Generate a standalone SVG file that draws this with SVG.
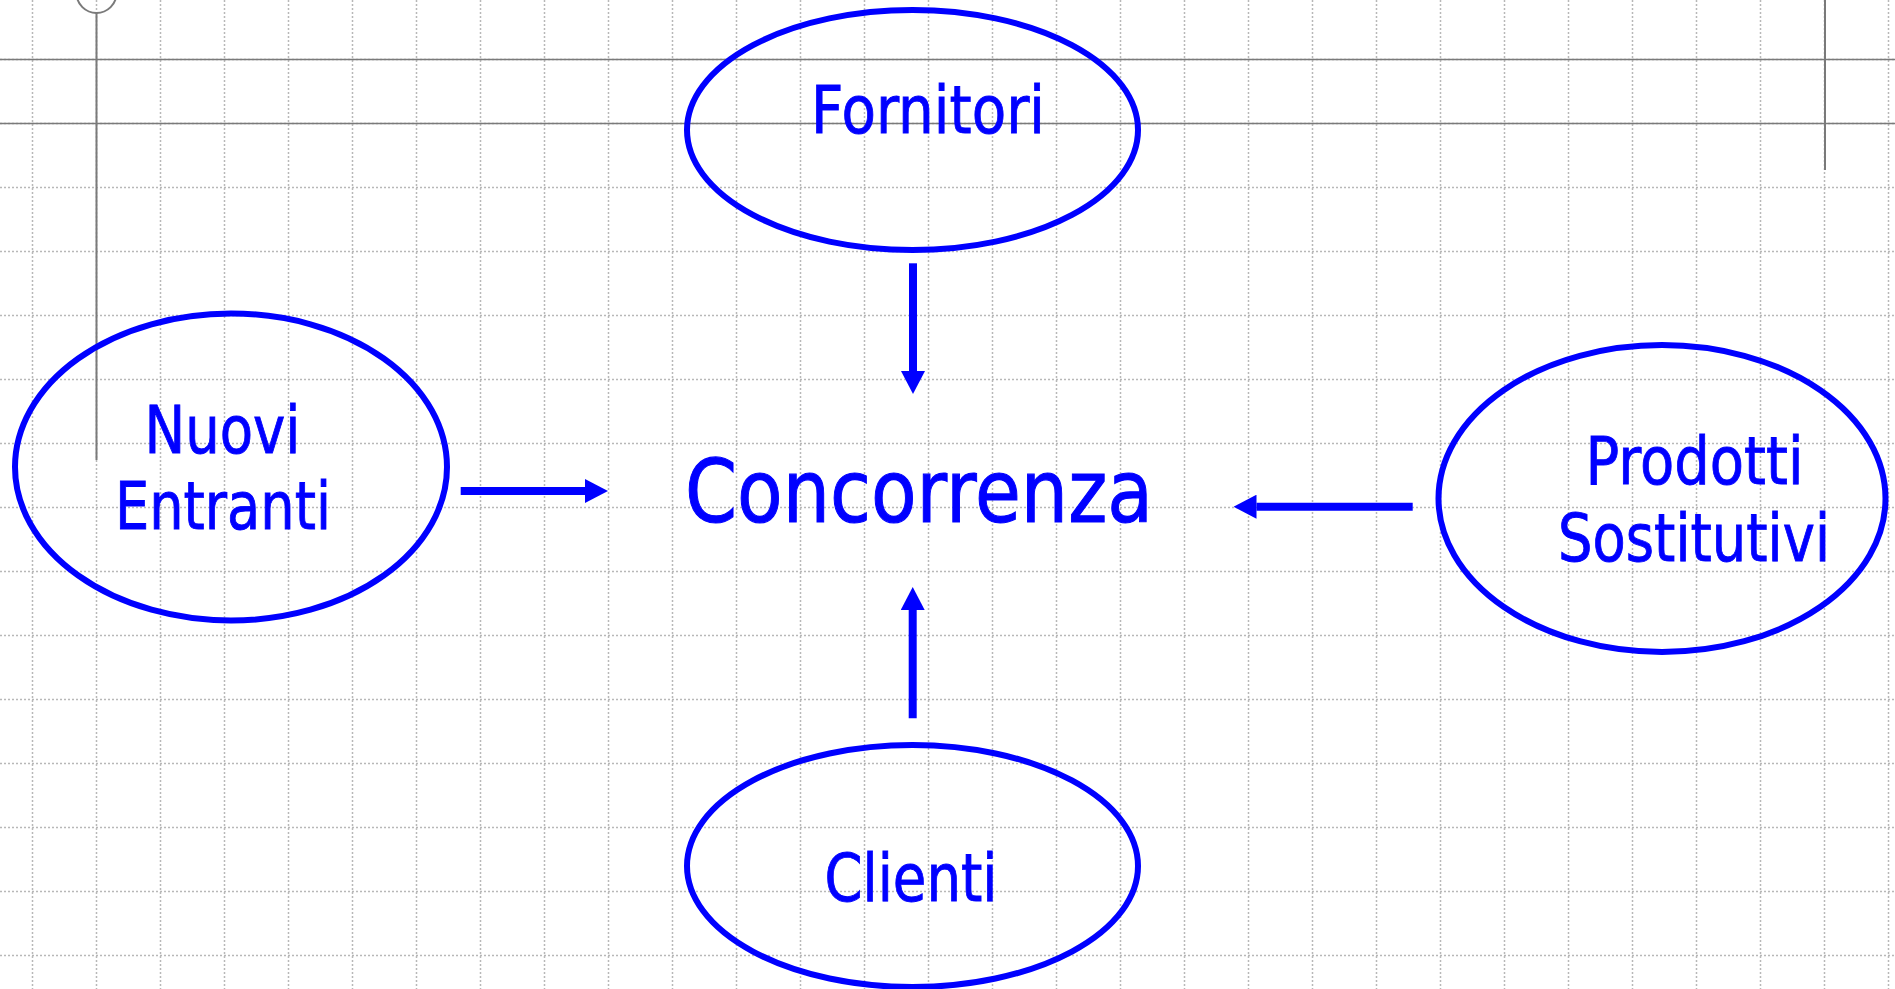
<svg xmlns="http://www.w3.org/2000/svg" width="1895" height="989" viewBox="0 0 1895 989">
<defs>
<style>
.grid line{stroke:#b8b8b8;stroke-width:1.5;stroke-dasharray:2 2}
.guide{stroke:#7a7a7a;stroke-width:2;fill:none}
.node ellipse{fill:none;stroke:#0000ff;stroke-width:6}
.lbl{font-family:"DejaVu Sans","Liberation Sans",sans-serif;fill:#0000ff;stroke:#0000ff;stroke-width:0.9;font-size:65px;text-anchor:middle}
.big{font-size:87px;stroke-width:1.1}
.conn line{stroke:#0000ff;stroke-width:8;stroke-linecap:butt}
</style>
<marker id="ah" viewBox="0 0 23 24" refX="0" refY="12" markerWidth="23" markerHeight="24" markerUnits="userSpaceOnUse" orient="auto">
<path d="M0,0 L23,12 L0,24 z" fill="#0000ff"/>
</marker>
</defs>
<rect width="1895" height="989" fill="#ffffff"/>
<g class="grid">
<line x1="32.5" y1="0" x2="32.5" y2="989"/><line x1="96.5" y1="0" x2="96.5" y2="989"/><line x1="160.5" y1="0" x2="160.5" y2="989"/><line x1="224.5" y1="0" x2="224.5" y2="989"/><line x1="288.5" y1="0" x2="288.5" y2="989"/><line x1="352.5" y1="0" x2="352.5" y2="989"/><line x1="416.5" y1="0" x2="416.5" y2="989"/><line x1="480.5" y1="0" x2="480.5" y2="989"/><line x1="544.5" y1="0" x2="544.5" y2="989"/><line x1="608.5" y1="0" x2="608.5" y2="989"/><line x1="672.5" y1="0" x2="672.5" y2="989"/><line x1="736.5" y1="0" x2="736.5" y2="989"/><line x1="800.5" y1="0" x2="800.5" y2="989"/><line x1="864.5" y1="0" x2="864.5" y2="989"/><line x1="928.5" y1="0" x2="928.5" y2="989"/><line x1="992.5" y1="0" x2="992.5" y2="989"/><line x1="1056.5" y1="0" x2="1056.5" y2="989"/><line x1="1120.5" y1="0" x2="1120.5" y2="989"/><line x1="1184.5" y1="0" x2="1184.5" y2="989"/><line x1="1248.5" y1="0" x2="1248.5" y2="989"/><line x1="1312.5" y1="0" x2="1312.5" y2="989"/><line x1="1376.5" y1="0" x2="1376.5" y2="989"/><line x1="1440.5" y1="0" x2="1440.5" y2="989"/><line x1="1504.5" y1="0" x2="1504.5" y2="989"/><line x1="1568.5" y1="0" x2="1568.5" y2="989"/><line x1="1632.5" y1="0" x2="1632.5" y2="989"/><line x1="1696.5" y1="0" x2="1696.5" y2="989"/><line x1="1760.5" y1="0" x2="1760.5" y2="989"/><line x1="1824.5" y1="0" x2="1824.5" y2="989"/><line x1="1888.5" y1="0" x2="1888.5" y2="989"/>
<line x1="0" y1="59.5" x2="1895" y2="59.5"/><line x1="0" y1="123.5" x2="1895" y2="123.5"/><line x1="0" y1="187.5" x2="1895" y2="187.5"/><line x1="0" y1="251.5" x2="1895" y2="251.5"/><line x1="0" y1="315.5" x2="1895" y2="315.5"/><line x1="0" y1="379.5" x2="1895" y2="379.5"/><line x1="0" y1="443.5" x2="1895" y2="443.5"/><line x1="0" y1="507.5" x2="1895" y2="507.5"/><line x1="0" y1="571.5" x2="1895" y2="571.5"/><line x1="0" y1="635.5" x2="1895" y2="635.5"/><line x1="0" y1="699.5" x2="1895" y2="699.5"/><line x1="0" y1="763.5" x2="1895" y2="763.5"/><line x1="0" y1="827.5" x2="1895" y2="827.5"/><line x1="0" y1="891.5" x2="1895" y2="891.5"/><line x1="0" y1="955.5" x2="1895" y2="955.5"/>
</g>
<g id="guides">
<line class="guide" x1="0" y1="59.5" x2="1895" y2="59.5" style="stroke-width:1.5"/>
<line class="guide" x1="0" y1="123.5" x2="1895" y2="123.5" style="stroke-width:1.5"/>
<line class="guide" x1="96.5" y1="13" x2="96.5" y2="460"/>
<circle class="guide" cx="96.5" cy="-7" r="20"/>
<line class="guide" x1="1825" y1="0" x2="1825" y2="170"/>
</g>
<g id="node-fornitori" class="node">
<ellipse cx="912.5" cy="130" rx="225.5" ry="120"/>
<text class="lbl" x="928" y="132.7" textLength="234" lengthAdjust="spacingAndGlyphs">Fornitori</text>
</g>
<g id="node-nuovi-entranti" class="node">
<ellipse cx="231" cy="467" rx="216" ry="153.5"/>
<text class="lbl" x="222.5" y="452.7" textLength="156" lengthAdjust="spacingAndGlyphs">Nuovi</text>
<text class="lbl" x="223" y="529.3" textLength="216" lengthAdjust="spacingAndGlyphs">Entranti</text>
</g>
<g id="node-concorrenza">
<text class="lbl big" x="919" y="521.7" textLength="468" lengthAdjust="spacingAndGlyphs">Concorrenza</text>
</g>
<g id="node-prodotti-sostitutivi" class="node">
<ellipse cx="1662" cy="498.5" rx="223.5" ry="153.5"/>
<text class="lbl" x="1694.5" y="484" textLength="218" lengthAdjust="spacingAndGlyphs">Prodotti</text>
<text class="lbl" x="1694" y="560.7" textLength="272" lengthAdjust="spacingAndGlyphs">Sostitutivi</text>
</g>
<g id="node-clienti" class="node">
<ellipse cx="912.5" cy="866" rx="225.5" ry="121"/>
<text class="lbl" x="911" y="900.7" textLength="173" lengthAdjust="spacingAndGlyphs">Clienti</text>
</g>
<g id="connectors" class="conn">
<line x1="913" y1="263.3" x2="913" y2="371" marker-end="url(#ah)"/>
<line x1="912.7" y1="718.3" x2="912.7" y2="610" marker-end="url(#ah)"/>
<line x1="460.7" y1="491" x2="585" y2="491" marker-end="url(#ah)"/>
<line x1="1412.7" y1="506.7" x2="1256.5" y2="506.7" marker-end="url(#ah)"/>
</g>
</svg>
